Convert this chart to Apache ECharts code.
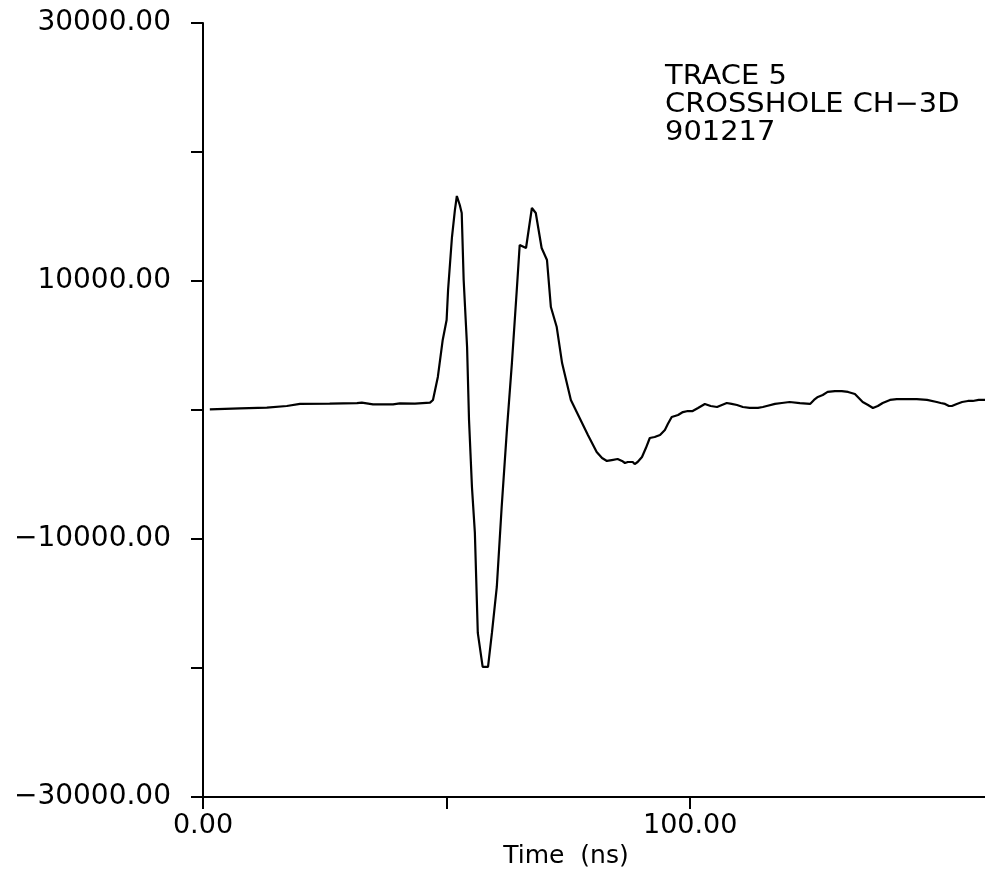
<!DOCTYPE html>
<html>
<head>
<meta charset="utf-8">
<title>TRACE 5 – CROSSHOLE CH-3D</title>
<script src="https://cdn.jsdelivr.net/npm/echarts@6/dist/echarts.min.js"></script>
<style>
  html, body { margin: 0; padding: 0; background: #ffffff; }
  #chart { width: 985px; height: 878px; }
</style>
</head>
<body>
<div id="chart"></div>
<script>
// Radar trace: sample times (ns) and amplitudes
const timeNs = [
  1.4, 7.6, 13.1, 17.2, 19.9, 26.0, 31.6, 32.6, 34.9, 39.0,
  40.4, 43.5, 46.6, 47.2, 48.2, 49.2, 50.0, 50.3, 51.1, 51.7,
  52.1, 52.7, 53.1, 53.5, 54.2, 54.6, 55.2, 55.8, 56.4, 57.4,
  58.5, 59.3, 60.3, 61.3, 62.4, 63.4, 64.4, 65.0, 66.3, 67.5,
  68.3, 69.5, 70.6, 71.4, 72.6, 73.7, 75.5, 77.3, 79.0, 80.8,
  81.9, 82.9, 83.9, 85.1, 86.0, 86.6, 87.2, 87.6, 88.2, 88.6,
  89.2, 90.1, 90.9, 91.7, 92.7, 93.8, 94.8, 95.4, 96.2, 97.5,
  98.5, 99.5, 100.5, 101.6, 103.0, 104.2, 105.5, 106.5, 107.5, 108.5,
  109.6, 110.8, 112.2, 113.9, 114.9, 115.7, 117.4, 118.8, 120.4, 122.5,
  124.6, 125.4, 126.2, 127.2, 128.2, 129.7, 131.1, 132.4, 133.8, 134.6,
  135.4, 136.5, 137.5, 138.5, 139.5, 141.0, 142.4, 144.5, 146.5, 148.6,
  150.6, 151.4, 152.3, 153.1, 153.7, 154.7, 155.8, 157.0, 158.0, 159.2,
  160.5
];
const amplitude = [
  50, 120, 180, 310, 470, 500, 540, 570, 440, 440,
  520, 500, 570, 780, 2560, 5430, 6980, 9300, 13410, 15500,
  16590, 15890, 15270, 10080, 4880, -780, -5970, -9530, -17280, -19920,
  -19920, -17280, -13720, -7520, -1400, 3640, 9300, 12790, 12560, 15660,
  15270, 12560, 11630, 7980, 6430, 3640, 780, -620, -1940, -3260,
  -3720, -3950, -3880, -3800, -3950, -4110, -4030, -3950, -4030, -4190,
  -4030, -3640, -2950, -2170, -2090, -1940, -1550, -1090, -540, -390,
  -160, -80, -80, 160, 470, 310, 230, 390, 540, 470,
  390, 230, 160, 160, 230, 310, 470, 540, 620, 540,
  470, 780, 1010, 1160, 1400, 1470, 1470, 1400, 1240, 930,
  620, 390, 160, 310, 540, 780, 850, 850, 850, 780,
  620, 540, 470, 310, 310, 470, 620, 700, 700, 780,
  780
];

// Axis ticks and labelled values
const xTickValues = [0, 50, 100];
const xLabelValues = [0, 100];
const yTickValues = [-30000, -20000, -10000, 0, 10000, 20000, 30000];
const yLabelValues = [-30000, -10000, 10000, 30000];

const annotationLines = ['TRACE 5', 'CROSSHOLE CH\u22123D', '901217'];
const xAxisTitle = 'Time  (ns)';

const FONT = "'DejaVu Sans', 'Liberation Sans', sans-serif";
const fmt = v => v.toFixed(2).replace('-', '\u2212');

const chart = echarts.init(document.getElementById('chart'), null, { renderer: 'canvas' });

chart.setOption({
  backgroundColor: '#ffffff',
  animation: false,
  grid: { left: 203, right: 0, top: 23, bottom: 81, outerBoundsMode: 'none' },
  xAxis: {
    type: 'value',
    min: 0,
    max: 160.5,
    interval: 50,
    name: xAxisTitle,
    nameLocation: 'middle',
    nameGap: 41,
    nameTextStyle: { color: '#000', fontSize: 25, fontFamily: FONT, padding: [0, 56, 0, 0] },
    axisLine: { show: true, onZero: false, lineStyle: { color: '#000', width: 2 } },
    axisTick: { show: true, inside: false, length: 12, customValues: xTickValues, lineStyle: { color: '#000', width: 2 } },
    axisLabel: { show: true, customValues: xLabelValues, margin: 15, color: '#000', fontSize: 27, fontFamily: FONT, formatter: fmt },
    splitLine: { show: false }
  },
  yAxis: {
    type: 'value',
    min: -30000,
    max: 30000,
    interval: 10000,
    axisLine: { show: true, onZero: false, lineStyle: { color: '#000', width: 2 } },
    axisTick: { show: true, inside: false, length: 12, customValues: yTickValues, lineStyle: { color: '#000', width: 2 } },
    axisLabel: { show: true, customValues: yLabelValues, margin: 32, color: '#000', fontSize: 28, fontFamily: FONT, formatter: fmt },
    splitLine: { show: false }
  },
  graphic: [
    {
      type: 'text',
      x: 665,
      y: 63,
      scaleX: 1.07,
      style: {
        text: annotationLines.join('\n'),
        fill: '#000',
        fontSize: 27,
        lineHeight: 28,
        fontFamily: FONT,
        textAlign: 'left',
        textVerticalAlign: 'top'
      }
    }
  ],
  series: [
    {
      type: 'line',
      data: timeNs.map((t, i) => [t, amplitude[i]]),
      showSymbol: false,
      smooth: false,
      lineStyle: { color: '#000', width: 2.2 },
      emphasis: { disabled: true }
    }
  ]
});
</script>
</body>
</html>
